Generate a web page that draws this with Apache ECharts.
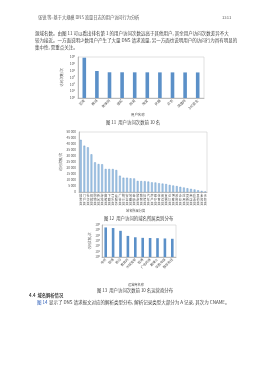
<!DOCTYPE html>
<html>
<head>
<meta charset="utf-8">
<script src="https://cdn.jsdelivr.net/npm/echarts@6/dist/echarts.min.js"></script>
<style>
html,body{margin:0;padding:0;background:#fff;}
#main{width:268px;height:380px;}
</style>
</head>
<body>
<div id="main"></div>
<script>
// 图11 用户访问次数前10名
var c1Cats = ['百度','腾讯','新浪网','搜狐','网易','淘宝','优酷','京东','凤凰网','360安全'];
var c1Vals = [790000, 8900, 5800, 5800, 5700, 5700, 5600, 5600, 5500, 5500];
// 图12 域名分类分布
var c2Cats = ['搜索类','门户类','社交类','视频类','购物类','新闻类','游戏类','邮箱类','下载类',
  '音乐类','云服务','广告类','统计类','安全类','地图类','金融类','旅游类','教育类',
  '招聘类','汽车类','房产类','医疗类','体育类','阅读类','直播类','论坛类','博客类',
  '政府类','企业类','应用类','更新类','商店类','彩票类','其他类','未知类','无效类'];
var c2Vals = [43500, 38600, 37200, 31400, 24700, 23300, 23100, 19200, 19200,
  19100, 18300, 13600, 11900, 11900, 11400, 11300, 9200, 9100,
  9000, 8700, 8000, 7900, 7300, 7000, 6600, 5900, 5400,
  4900, 4300, 3700, 3100, 2600, 2100, 1400, 900, 400];
// 图13 用户访问运营商前10名
var c3Cats = ['电信','联通','移动','教育网','长城宽带','铁通','广电网络','鹏博士','华数传媒','歌华有线'];
var c3Vals = [350000, 270000, 81000, 9000, 5000, 3900, 3700, 3400, 3000, 2600];

var FONT = '"Noto Sans CJK SC", sans-serif';
var myChart = echarts.init(document.getElementById('main'));

function supLabel(v) {
    return '10{s|' + Math.round(Math.log10(v)) + '}';
}
function txt(x, y, s, size, extra) {
    var st = { text: s, fontSize: size, fontFamily: FONT, fill: '#444', textVerticalAlign: 'middle' };
    if (extra) { for (var k in extra) st[k] = extra[k]; }
    return { type: 'text', x: x, y: y, style: st, silent: true };
}
var rich = { s: { fontSize: 2.6, verticalAlign: 'top', padding: [0, 0, 2, 0], fontFamily: FONT, color: '#555' } };

myChart.setOption({
    animation: false,
    grid: [
        { left: 78, top: 57, width: 126, height: 41, show: true, borderColor: '#cfcfcf', borderWidth: 0.6 },
        { left: 79, top: 132, width: 128, height: 60, show: true, borderColor: '#cfcfcf', borderWidth: 0.6 },
        { left: 102, top: 225, width: 74, height: 32, show: true, borderColor: '#cfcfcf', borderWidth: 0.6 }
    ],
    xAxis: [
        { gridIndex: 0, type: 'category', data: c1Cats,
          axisLine: { lineStyle: { color: '#999', width: 0.6 } }, axisTick: { show: false },
          axisLabel: { rotate: 45, fontSize: 3.4, margin: 2, color: '#555', fontFamily: FONT, interval: 0 } },
        { gridIndex: 1, type: 'category', data: c2Cats,
          axisLine: { lineStyle: { color: '#999', width: 0.6 } }, axisTick: { show: false },
          axisLabel: { fontSize: 3, lineHeight: 3.8, margin: 2, color: '#555', fontFamily: FONT, interval: 0,
            formatter: function (s) { return s.split('').join('\n'); } } },
        { gridIndex: 2, type: 'category', data: c3Cats,
          axisLine: { lineStyle: { color: '#999', width: 0.6 } }, axisTick: { show: false },
          axisLabel: { rotate: 45, fontSize: 3.2, margin: 2, color: '#555', fontFamily: FONT, interval: 0 } }
    ],
    yAxis: [
        { gridIndex: 0, type: 'log', logBase: 10, min: 1, max: 1000000,
          name: '访问次数/次', nameLocation: 'middle', nameGap: 15,
          nameTextStyle: { fontSize: 3.4, color: '#555', fontFamily: FONT },
          splitLine: { show: false }, axisLine: { show: true, lineStyle: { color: '#999', width: 0.6 } },
          axisTick: { show: false },
          axisLabel: { fontSize: 3.4, margin: 3, color: '#555', fontFamily: FONT, formatter: supLabel, rich: rich } },
        { gridIndex: 1, type: 'value', min: 0, max: 50000, interval: 5000,
          name: '访问次数/次', nameLocation: 'middle', nameGap: 16,
          nameTextStyle: { fontSize: 3.4, color: '#555', fontFamily: FONT },
          splitLine: { show: false }, axisLine: { show: true, lineStyle: { color: '#999', width: 0.6 } },
          axisTick: { show: false },
          axisLabel: { fontSize: 3.2, margin: 3, color: '#555', fontFamily: FONT,
            formatter: function (v) { return v >= 1000 ? (v / 1000) + ' 000' : '' + v; } } },
        { gridIndex: 2, type: 'log', logBase: 10, min: 1, max: 1000000,
          name: '访问次数/次', nameLocation: 'middle', nameGap: 9,
          nameTextStyle: { fontSize: 3.2, color: '#555', fontFamily: FONT },
          splitLine: { show: false }, axisLine: { show: true, lineStyle: { color: '#999', width: 0.6 } },
          axisTick: { show: false },
          axisLabel: { fontSize: 3, margin: 2, color: '#555', fontFamily: FONT, formatter: supLabel, rich: rich } }
    ],
    series: [
        { type: 'bar', xAxisIndex: 0, yAxisIndex: 0, data: c1Vals, barWidth: 3.6,
          itemStyle: { color: '#5b90c8' } },
        { type: 'bar', xAxisIndex: 1, yAxisIndex: 1, data: c2Vals, barWidth: 1.8,
          itemStyle: { color: '#a9cbe8', borderColor: '#5b8ec2', borderWidth: 0.4 } },
        { type: 'bar', xAxisIndex: 2, yAxisIndex: 2, data: c3Vals, barWidth: 2.6,
          itemStyle: { color: '#5b90c8' } }
    ],
    graphic: [
        txt(38, 17, '张锐 等: 基于大规模 DNS 流量日志的用户访问行为分析', 4.2, { fill: '#555' }),
        txt(222, 17, '1311', 4.2, { fill: '#555' }),
        txt(35, 33, '源域名数。由图 11 可以看出排名第 1 的用户访问次数远高于其他用户, 其余用户访问次数差异不大', 4.5),
        txt(35, 40, '较为接近。一方面说明少数用户产生了大量 DNS 请求流量, 另一方面也说明用户的访问行为具有明显的', 4.5),
        txt(35, 47, '集中性, 需重点关注。', 4.5),
        txt(131, 115, '用户名称', 3.4, { fill: '#555' }),
        txt(106, 122, '图 11  用户访问次数前 10 名', 4.4),
        txt(126, 211, '域名所属分类', 3.2, { fill: '#555' }),
        txt(104, 218, '图 12  用户访问的域名所属类别分布', 4.4),
        txt(128, 285, '运营商名称', 3.2, { fill: '#555' }),
        txt(97, 290, '图 13  用户访问次数前 10 名运营商分布', 4.4),
        txt(29, 295, '4.4  域名解析情况', 4.3, { fontWeight: 'bold' }),
        txt(37, 302, '图 14', 4.5, { fill: '#2a5cb8' }),
        txt(49, 302, '显示了 DNS 请求报文对应的解析类型分布, 解析记录类型大部分为 A 记录, 其次为 CNAME。', 4.5)
    ]
});
</script>
</body>
</html>
